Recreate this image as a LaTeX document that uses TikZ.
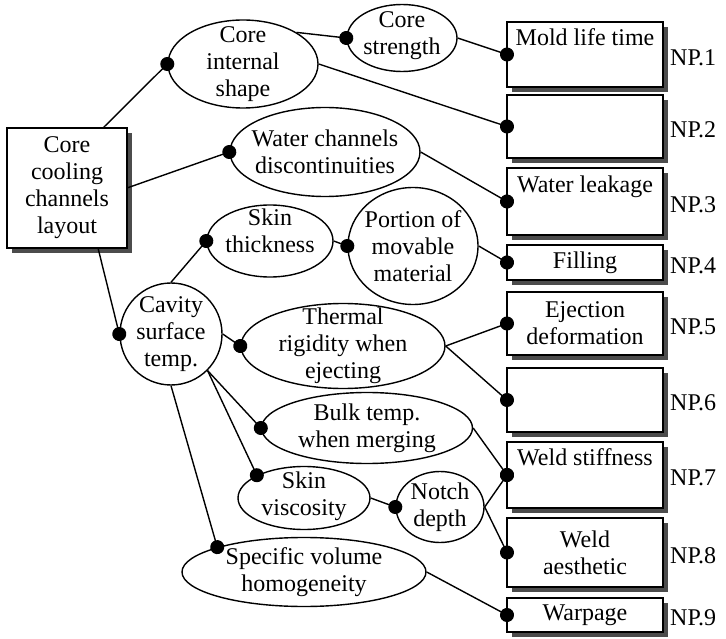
\documentclass[tikz,border=0pt]{standalone}
\usepackage{fontspec}
\setmainfont{Liberation Serif}
\usepackage{tikz}
\tikzstyle{block}=[draw, fill=white, line width=1.8pt, align=center, inner sep=2pt, outer sep=0pt]
\tikzstyle{outcome}=[block, minimum width=156pt]
\tikzstyle{cause}=[draw, ellipse, line width=1.4pt, align=center, inner sep=-40pt]
\tikzstyle{link}=[line width=1.4pt, -{Circle[length=14pt]}, shorten >=-7pt]
\tikzstyle{tag}=[inner sep=0pt]
\tikzstyle{shade}=[fill=black!70]
\usetikzlibrary{shapes.geometric,arrows.meta,positioning,backgrounds}

\begin{document}
\begin{tikzpicture}[x=1pt, y=-1pt, font=\fontsize{24}{27}\selectfont]
\useasboundingbox (0,0) rectangle (726,639);
\node (root) [block, minimum width=120pt, minimum height=120pt] at (67,188) {Core\\cooling\\channels\\layout};

\node (cis) [cause, minimum width=150pt, minimum height=88pt] at (243,64) {Core\\internal\\shape};
\node (cst) [cause, minimum width=110pt, minimum height=67pt] at (402,38) {Core\\strength\rule[-10pt]{0pt}{10pt}};
\node (wcd) [cause, minimum width=190pt, minimum height=89pt] at (325,152) {Water channels\\discontinuities};
\node (skt) [cause, minimum width=126pt, minimum height=72pt] at (270,241) {Skin\\thickness\rule[-20pt]{0pt}{20pt}};
\node (pmm) [cause, minimum width=130pt, minimum height=117pt] at (413,246) {Portion of\\movable\\material};
\node (cavity) [cause, circle, minimum size=102pt] at (171,334) {Cavity\\surface\\temp.};
\node (trw) [cause, minimum width=204pt, minimum height=85pt] at (343,346) {Thermal\\rigidity when\\ejecting};
\node (btm) [cause, minimum width=211pt, minimum height=71pt] at (367,428) {Bulk temp.\\when merging};
\node (skv) [cause, minimum width=132pt, minimum height=63pt] at (304,498) {Skin\\viscosity\rule[-8pt]{0pt}{8pt}};
\node (ndp) [cause, minimum width=88pt, minimum height=71pt] at (440,507) {Notch\\depth};
\node (svh) [cause, minimum width=244pt, minimum height=69pt] at (304,572) {Specific volume\\homogeneity};

\node (np1) [outcome, minimum height=65pt] at (585,54.5) {Mold life time\\\strut};
\node (np2) [outcome, minimum height=63pt, below=8pt of np1] {};
\node (np3) [outcome, minimum height=67pt, below=10pt of np2] {Water leakage\\\strut};
\node (np4) [outcome, minimum height=35pt, below=10pt of np3] {Filling};
\node (np5) [outcome, minimum height=63pt, below=12pt of np4] {Ejection\\deformation};
\node (np6) [outcome, minimum height=64pt, below=13pt of np5] {};
\node (np7) [outcome, minimum height=66pt, below=10pt of np6] {Weld stiffness\\\strut};
\node (np8) [outcome, minimum height=69pt, below=10pt of np7] {Weld\\aesthetic};
\node (np9) [outcome, minimum height=34pt, below=11pt of np8] {Warpage};

\node (tag1) [tag, right=7pt of np1, yshift=-3pt] {NP.1};
\node (tag2) [tag, right=7pt of np2, yshift=-3pt] {NP.2};
\node (tag3) [tag, right=7pt of np3, yshift=-3pt] {NP.3};
\node (tag4) [tag, right=7pt of np4, yshift=-3pt] {NP.4};
\node (tag5) [tag, right=7pt of np5, yshift=-3pt] {NP.5};
\node (tag6) [tag, right=7pt of np6, yshift=-3pt] {NP.6};
\node (tag7) [tag, right=7pt of np7, yshift=-3pt] {NP.7};
\node (tag8) [tag, right=7pt of np8, yshift=-3pt] {NP.8};
\node (tag9) [tag, right=7pt of np9, yshift=-3pt] {NP.9};

\begin{scope}[on background layer]
\foreach \b in {root,np1,np2,np3,np4,np5,np6,np7,np8,np9}
  \fill[shade] ([shift={(5,5)}]\b.south west) rectangle ([shift={(5,5)}]\b.north east);
\end{scope}

\draw[link] ([xshift=-24pt]root.north east) -- (cis.west);
\draw[link] (root.east) -- (wcd.west);
\draw[link] ([xshift=31pt]root.south) -- (cavity.west);
\draw[link] (cis.north east) -- (cst.west);
\draw[link] (cis.east) -- (np2.west);
\draw[link] (cst.east) -- (np1.west);
\draw[link] (wcd.east) -- (np3.west);
\draw[link] (cavity.north) -- (skt.west);
\draw[link] (skt.east) -- (pmm.west);
\draw[link] (pmm.east) -- (np4.west);
\draw[link] (cavity.east) -- (trw.west);
\draw[link] (trw.east) -- (np5.west);
\draw[link] (trw.east) -- (np6.west);
\draw[link] (cavity.south east) -- (btm.west);
\draw[link] (cavity.south east) -- (skv.north west);
\draw[link] (cavity.south) -- (svh.north west);
\draw[link] (btm.east) -- (np7.west);
\draw[link] (skv.east) -- (ndp.west);
\draw[link] (ndp.east) -- (np7.west);
\draw[link] (ndp.east) -- (np8.west);
\draw[link] (svh.east) -- (np9.west);
\end{tikzpicture}
\end{document}
